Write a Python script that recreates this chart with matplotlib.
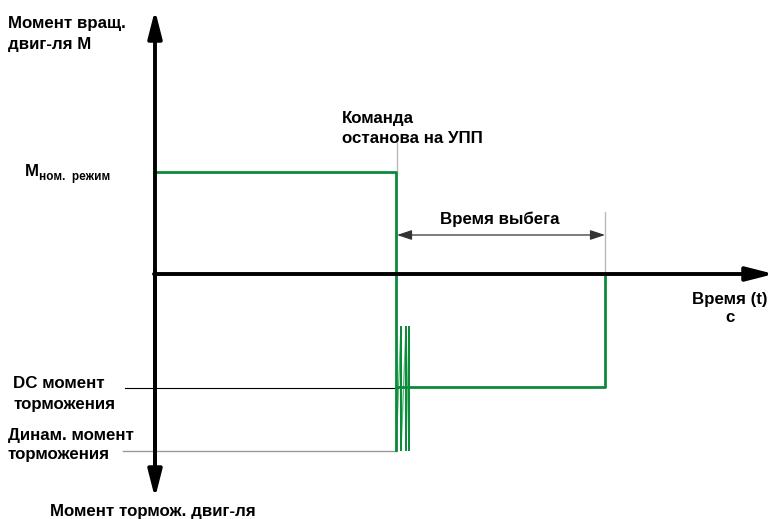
import matplotlib
matplotlib.use("Agg")
import matplotlib.pyplot as plt

plt.rcParams['font.family'] = ['Liberation Sans', 'DejaVu Sans']

# curve of motor torque (pixel-like units, y grows downward)
torque_x = [155, 396, 396]
torque_y = [172, 172, 450]
zig_x = [396, 401, 401, 406, 406, 409, 409]
zig_y = [450, 327, 450, 327, 450, 327, 450]
zig_bars_x = [401, 406, 409]
dc_x = [396, 605, 605]
dc_y = [387, 387, 274]

GREEN = '#0a8a3a'
AXIS_Y = 274

fig = plt.figure(figsize=(7.74, 5.19), dpi=100)
ax = fig.add_axes([0, 0, 1, 1])
ax.set_xlim(0, 774)
ax.set_ylim(519, 0)
ax.axis('off')

head = '-|>,head_length=1.65,head_width=0.42'
# axes with arrows
ax.annotate('', xy=(155, 10), xytext=(155, 480),
            arrowprops=dict(arrowstyle=head, lw=2.8, color='black', shrinkA=0, shrinkB=0))
ax.annotate('', xy=(155, 498), xytext=(155, 270),
            arrowprops=dict(arrowstyle=head, lw=2.8, color='black', shrinkA=0, shrinkB=0))
ax.annotate('', xy=(774, AXIS_Y), xytext=(154, AXIS_Y),
            arrowprops=dict(arrowstyle=head, lw=2.8, color='black', shrinkA=0, shrinkB=0))

# guide lines
ax.plot([125, 396], [388, 388], color='black', lw=0.8)
ax.plot([123, 396], [451, 451], color='#999999', lw=1.0)
ax.plot([397, 397], [140, 172], color='#bbbbbb', lw=1.0)
ax.plot([605, 605], [212, AXIS_Y], color='#bbbbbb', lw=1.0)
ax.annotate('', xy=(397, 235), xytext=(605, 235),
            arrowprops=dict(arrowstyle='<|-|>,head_length=0.9,head_width=0.3', lw=0.9,
                            color='#333333', shrinkA=0, shrinkB=0))

# torque curve
ax.plot(zig_x, zig_y, color='#5cbc7c', lw=1.0)
for bx in zig_bars_x:
    ax.plot([bx, bx], [327, 450], color=GREEN, lw=1.4)
ax.plot(torque_x, torque_y, color=GREEN, lw=2.0)
ax.plot(dc_x, dc_y, color=GREEN, lw=2.0)

fs = 12.2
kw = dict(fontsize=fs, fontweight='bold', color='black', va='baseline')
ax.text(8, 28, 'Момент вращ.', ha='left', **kw)
ax.text(8, 49, 'двиг-ля М', ha='left', **kw)
ax.text(342, 123, 'Команда', ha='left', **kw)
ax.text(342, 143, 'останова на УПП', ha='left', **kw)
ax.text(25, 176, 'M', ha='left', **kw)
ax.text(39, 180, 'ном.  режим', ha='left', fontsize=8.5, fontweight='bold', va='baseline')
ax.text(500, 224, 'Время выбега', ha='center', **kw)
ax.text(730, 304, 'Время (t)', ha='center', **kw)
ax.text(730, 322, 'с', ha='center', **kw)
ax.text(13, 388, 'DC момент', ha='left', **kw)
ax.text(13, 409, 'торможения', ha='left', **kw)
ax.text(8, 440, 'Динам. момент', ha='left', **kw)
ax.text(8, 459, 'торможения', ha='left', **kw)
ax.text(50, 516, 'Момент тормож. двиг-ля', ha='left', **kw)

fig.savefig('out.png', dpi=100)
